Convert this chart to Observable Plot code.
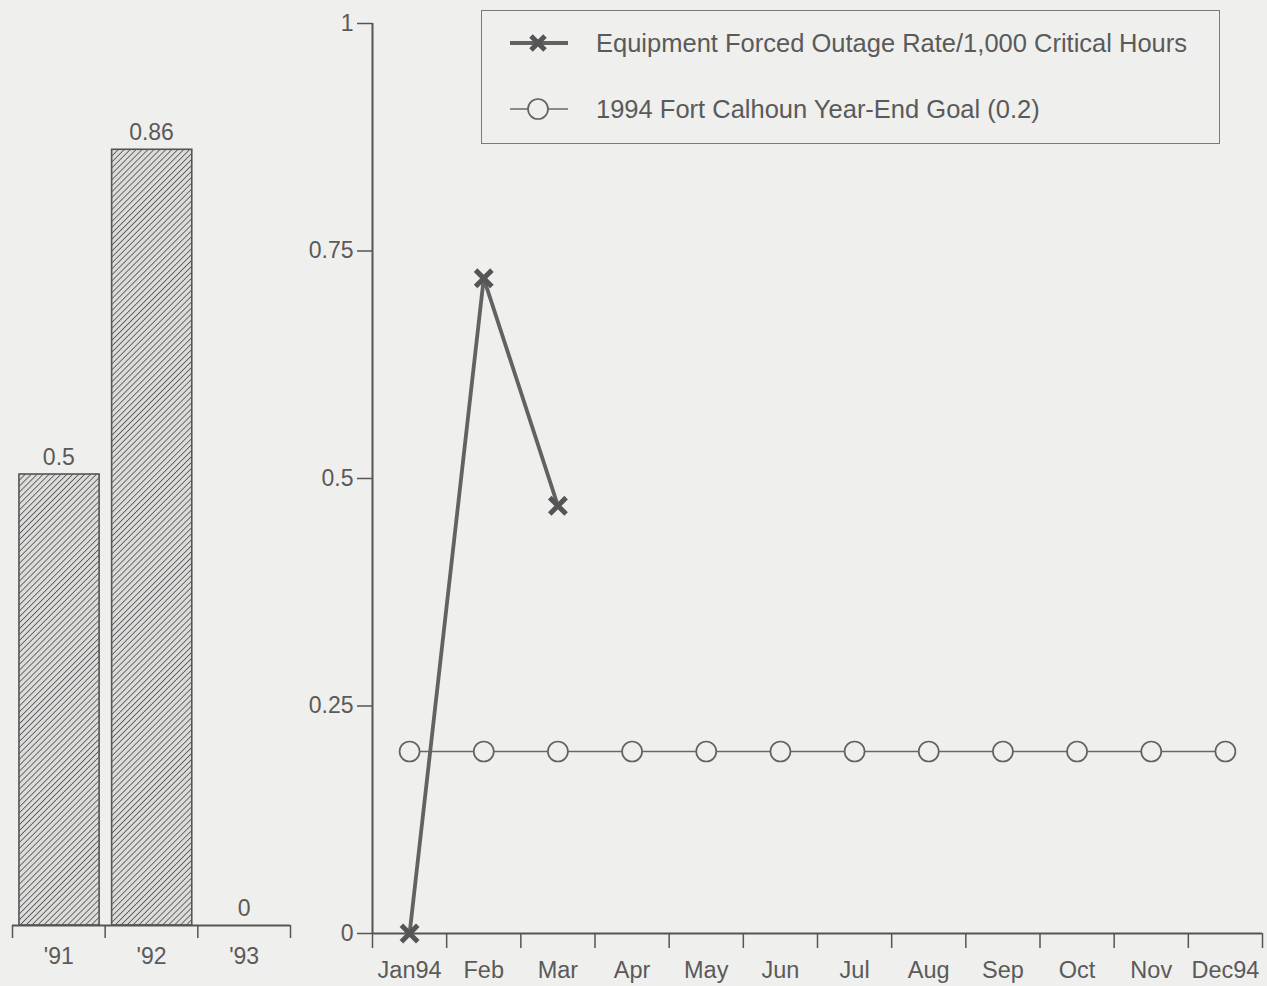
<!DOCTYPE html>
<html>
<head>
<meta charset="utf-8">
<script src="https://cdn.jsdelivr.net/npm/d3@7"></script>
<script src="https://cdn.jsdelivr.net/npm/@observablehq/plot@0.6"></script>
<style>
  html, body { margin: 0; padding: 0; background: #efefed; }
  #wrap { position: relative; width: 1267px; height: 986px; overflow: hidden; background: #efefed;
          font-family: "Liberation Sans", Arial, sans-serif; color: #595959; }
  #left { position: absolute; left: 0; top: 0; }
  #right { position: absolute; left: 300px; top: 0; }
  #legend { position: absolute; left: 481px; top: 10px; width: 737px; height: 132px;
            border: 1.5px solid #7a7a7a; box-sizing: content-box; }
  .row { position: absolute; left: 26px; height: 30px; display: flex; align-items: center; }
  .row svg { display: block; }
  .row span { margin-left: 26px; font-size: 25.5px; color: #5a5a5a; white-space: nowrap; }
</style>
</head>
<body>
<div id="wrap">
  <div id="left"></div>
  <div id="right"></div>
  <div id="legend"></div>
</div>
<script>
// ---- data ----
const years = ["'91", "'92", "'93"];
const yearValues = [0.5, 0.86, 0];
const yearValueLabels = ["0.5", "0.86", "0"];

const months = ["Jan94", "Feb", "Mar", "Apr", "May", "Jun", "Jul", "Aug", "Sep", "Oct", "Nov", "Dec94"];
const outageRate = [0, 0.72, 0.47];            // Jan, Feb, Mar
const yearEndGoal = [0.2, 0.2, 0.2, 0.2, 0.2, 0.2, 0.2, 0.2, 0.2, 0.2, 0.2, 0.2];
const yTicks = [0, 0.25, 0.5, 0.75, 1];

const seriesNames = ["Equipment Forced Outage Rate/1,000 Critical Hours", "1994 Fort Calhoun Year-End Goal (0.2)"];

const BG = "#efefed";
const INK = "#5a5a5a";
const FONT = "Liberation Sans, Arial, sans-serif";

// ---- left: yearly bars ----
const leftData = years.map((y, i) => ({i, year: y, value: yearValues[i], label: yearValueLabels[i]}));

const defsMark = () => {
  const defs = d3.create("svg:defs");
  const p = defs.append("pattern")
    .attr("id", "hatch").attr("patternUnits", "userSpaceOnUse")
    .attr("width", 4.2).attr("height", 4.2)
    .attr("patternTransform", "rotate(45)");
  p.append("rect").attr("width", 4.2).attr("height", 4.2).attr("fill", "#dcdcda");
  p.append("line").attr("x1", 0).attr("y1", 0).attr("x2", 0).attr("y2", 4.2)
    .attr("stroke", "#575757").attr("stroke-width", 1.7);
  return defs.node();
};

const left = Plot.plot({
  width: 300, height: 986,
  marginLeft: 12, marginRight: 10, marginTop: 23, marginBottom: 61,
  x: {type: "linear", domain: [0, years.length], axis: null},
  y: {domain: [0, 1], axis: null, label: null},
  style: {background: "transparent", color: INK, fontFamily: FONT, fontSize: "24px", overflow: "visible"},
  marks: [
    defsMark,
    Plot.rectY(leftData, {x1: d => d.i + 0.075, x2: d => d.i + 0.94, y: "value", fill: "url(#hatch)", stroke: "#555", strokeWidth: 1.6}),
    Plot.ruleY([0], {stroke: "#555", strokeWidth: 2}),
    Plot.axisX({ticks: d3.range(years.length + 1), tickFormat: () => "", tickSize: 13, stroke: "#555", strokeWidth: 1.5, label: null}),
    Plot.axisX({ticks: leftData.map(d => d.i + 0.5), tickFormat: v => years[Math.floor(v)], tickSize: 0, tickPadding: 22, fontSize: 23, label: null}),
    Plot.text(leftData, {x: d => d.i + 0.5, y: "value", text: "label", lineAnchor: "bottom", dy: -10, fontSize: 23, fill: INK})
  ]
});
document.getElementById("left").append(left);

// ---- right: monthly lines ----
const outageData = outageRate.map((v, i) => ({i, month: months[i], value: v}));
const goalData = yearEndGoal.map((v, i) => ({i, month: months[i], value: v}));

const right = Plot.plot({
  width: 967, height: 986,
  marginLeft: 72, marginRight: 5, marginTop: 23, marginBottom: 53,
  x: {type: "linear", domain: [0, months.length], axis: null, label: null},
  y: {domain: [0, 1], axis: null, label: null},
  style: {background: "transparent", color: INK, fontFamily: FONT, fontSize: "24px", overflow: "visible"},
  marks: [
    Plot.ruleX([0], {stroke: "#555", strokeWidth: 2}),
    Plot.ruleY([0], {stroke: "#555", strokeWidth: 2}),
    Plot.axisY({ticks: yTicks, tickSize: 15, tickPadding: 4, stroke: "#555", strokeWidth: 1.5, fontSize: 23, tickFormat: d => String(d), label: null}),
    Plot.axisX({ticks: d3.range(months.length + 1), tickFormat: () => "", tickSize: 15, stroke: "#555", strokeWidth: 1.5, label: null}),
    Plot.axisX({ticks: months.map((m, i) => i + 0.5), tickFormat: v => months[Math.floor(v)], tickSize: 0, tickPadding: 28, fontSize: 23.5, label: null}),
    Plot.line(goalData, {x: d => d.i + 0.5, y: "value", stroke: "#686868", strokeWidth: 1.7}),
    Plot.dot(goalData, {x: d => d.i + 0.5, y: "value", r: 10, fill: BG, stroke: "#626262", strokeWidth: 1.7}),
    Plot.line(outageData, {x: d => d.i + 0.5, y: "value", stroke: "#626262", strokeWidth: 3.8}),
    Plot.dot(outageData, {x: d => d.i + 0.5, y: "value", symbol: "times", r: 7.5, stroke: "#555", strokeWidth: 5})
  ]
});
document.getElementById("right").append(right);

// ---- legend ----
const legend = document.getElementById("legend");
const row1 = document.createElement("div");
row1.className = "row"; row1.style.top = "17px";
row1.innerHTML = `<svg width="62" height="30"><line x1="2" y1="15" x2="60" y2="15" stroke="#626262" stroke-width="3.8"/>
  <path d="M23,8 L37,22 M37,8 L23,22" stroke="#555" stroke-width="5" fill="none"/></svg><span>${seriesNames[0]}</span>`;
const row2 = document.createElement("div");
row2.className = "row"; row2.style.top = "83px";
row2.innerHTML = `<svg width="62" height="30"><line x1="2" y1="15" x2="60" y2="15" stroke="#686868" stroke-width="1.7"/>
  <circle cx="30" cy="15" r="10" fill="${BG}" stroke="#626262" stroke-width="1.7"/></svg><span>${seriesNames[1]}</span>`;
legend.append(row1, row2);
</script>
</body>
</html>
